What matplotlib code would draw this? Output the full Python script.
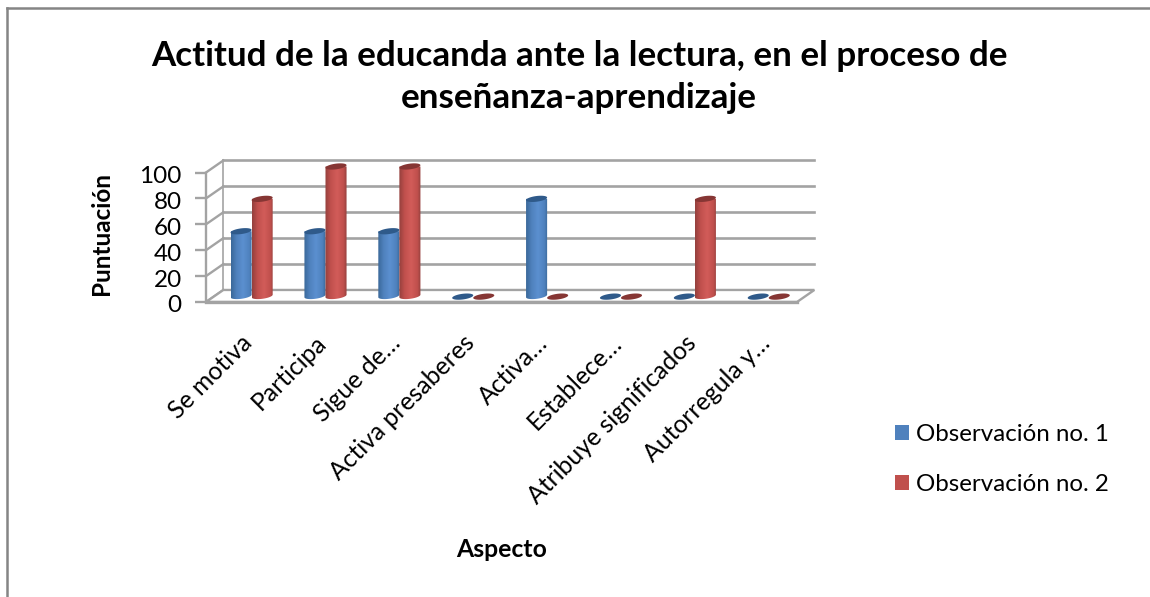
import matplotlib
matplotlib.use("Agg")
import matplotlib.pyplot as plt
import numpy as np
from matplotlib.lines import Line2D
from matplotlib.patches import Patch, Polygon
from matplotlib.transforms import ScaledTranslation

# Chart data
categories = [
    "Se motiva",
    "Participa",
    "Sigue de…",
    "Activa presaberes",
    "Activa…",
    "Establece…",
    "Atribuye significados",
    "Autorregula y…",
]
obs_1 = [50, 50, 50, 0, 75, 0, 0, 0]
obs_2 = [75, 100, 100, 0, 0, 0, 75, 0]
y_ticks = [0, 20, 40, 60, 80, 100]
series_names = ["Observación no. 1", "Observación no. 2"]

WIDTH, HEIGHT = 1150, 597
GRID_COLOR = "#a3a3a3"
BLUE = ("#3a6899", "#5b90d0", "#2f5a8a", "#4f81bd")
RED = ("#93403d", "#d25c59", "#863634", "#c0504d")

# Depth of the fake 3D box, in data units
DEPTH_X = 0.235
DEPTH_Y = 9.3
BAR_W = 0.285

plt.rcParams["font.family"] = ["Lato", "DejaVu Sans"]

fig = plt.figure(figsize=(WIDTH / 100, HEIGHT / 100), dpi=100)
ax = fig.add_axes(
    [206 / WIDTH, 1 - 302 / HEIGHT, (797 - 206) / WIDTH, (302 - 172.5) / HEIGHT]
)
ax.set_xlim(0, len(categories))
ax.set_ylim(0, 100)
for spine in ax.spines.values():
    spine.set_visible(False)


def ellipse_points(cx, cy, tilt=1.0):
    # Slightly tilted ellipse, looks like the perspective in the original
    t = np.linspace(0, 2 * np.pi, 60)
    xs = cx + BAR_W / 2 * np.cos(t)
    ys = cy + 2.2 * np.sin(t) + tilt * np.cos(t)
    return np.column_stack([xs, ys])


def draw_cylinder(cx, value, colors):
    edge, light, top, mid = colors
    base = DEPTH_Y / 2
    if value == 0:
        ax.add_patch(
            Polygon(ellipse_points(cx, base - 0.5), color=top, lw=0, zorder=4, clip_on=False)
        )
        return
    top_y = base + value
    # Body outline, rectangle plus the lower half of the base ellipse
    t = np.linspace(np.pi, 2 * np.pi, 30)
    body = np.column_stack(
        [cx + BAR_W / 2 * np.cos(t), base + 2.2 * np.sin(t) + np.cos(t)]
    )
    body = np.vstack([[cx - BAR_W / 2, top_y], body, [cx + BAR_W / 2, top_y]])
    patch = Polygon(body, closed=True, fc="none", ec="none", zorder=3, clip_on=False)
    ax.add_patch(patch)
    # Horizontal shading across the cylinder
    shade = [0.0, 0.25, 0.55, 0.85, 1.0]
    cmap = matplotlib.colors.LinearSegmentedColormap.from_list(
        "cyl", list(zip(shade, [edge, mid, light, mid, edge]))
    )
    img = ax.imshow(
        np.linspace(0, 1, 64).reshape(1, -1),
        cmap=cmap,
        extent=[cx - BAR_W / 2, cx + BAR_W / 2, base - 3, top_y],
        aspect="auto",
        zorder=3,
        interpolation="bilinear",
    )
    # The image would stop at the axes box otherwise, and the tall bars go past it
    img.set_clip_box(fig.bbox)
    img.set_clip_path(patch)
    ax.add_patch(
        Polygon(ellipse_points(cx, top_y), color=top, lw=0, zorder=4, clip_on=False)
    )


# Back wall and side wall grid
n = len(categories)
for val in y_ticks[1:]:
    ax.plot(
        [DEPTH_X, n + DEPTH_X], [val + DEPTH_Y, val + DEPTH_Y],
        color=GRID_COLOR, lw=1.9, zorder=1, clip_on=False,
    )
for val in y_ticks:
    ax.plot(
        [0, DEPTH_X], [val, val + DEPTH_Y],
        color=GRID_COLOR, lw=1.7, zorder=1, clip_on=False,
    )
ax.plot(
    [DEPTH_X, DEPTH_X], [DEPTH_Y, 100 + DEPTH_Y],
    color=GRID_COLOR, lw=1.2, zorder=1, clip_on=False,
)
ax.plot([0, 0], [0, 100], color=GRID_COLOR, lw=1.7, zorder=1, clip_on=False)

# Floor
ax.add_patch(
    Polygon(
        [[0, 0], [n, 0], [n + DEPTH_X, DEPTH_Y], [DEPTH_X, DEPTH_Y]],
        closed=True, fc="white", ec=GRID_COLOR, lw=1.7, zorder=2, clip_on=False,
    )
)
ax.plot([0, n], [0, 0], color=GRID_COLOR, lw=2.4, zorder=2, clip_on=False)

# Bars
for i in range(n):
    center = i + 0.5 + DEPTH_X / 2
    draw_cylinder(center - BAR_W / 2, obs_1[i], BLUE)
    draw_cylinder(center + BAR_W / 2, obs_2[i], RED)

# imshow changes the limits
ax.set_xlim(0, n)
ax.set_ylim(0, 100)

ax.set_yticks(y_ticks)
ax.tick_params(axis="y", labelsize=17.5, length=8, width=1.7, color=GRID_COLOR, pad=9.5)
# Numbers sit a little lower than their ticks in the original
for label in ax.get_yticklabels():
    label.set_transform(label.get_transform() + ScaledTranslation(0, -2 / 100, fig.dpi_scale_trans))
ax.set_xticks(np.arange(n) + 0.47)
ax.set_xticklabels(categories, rotation=45, ha="right", rotation_mode="anchor", fontsize=17.8)
ax.tick_params(axis="x", length=0, pad=21)

ax.set_ylabel("Puntuación", fontsize=17.5, fontweight="bold")
ax.yaxis.set_label_coords((113 - 206) / (797 - 206), (302 - 233.5) / (302 - 172.5))
ax.set_xlabel("Aspecto", fontsize=17.8, fontweight="bold")
ax.xaxis.set_label_coords((502 - 206) / (797 - 206), (302 - 550) / (302 - 172.5))
ax.xaxis.label.set_verticalalignment("center")

fig.suptitle(
    "Actitud de la educanda ante la lectura, en el proceso de\nenseñanza-aprendizaje",
    x=579 / WIDTH, y=1 - 77 / HEIGHT, va="center", ha="center",
    fontsize=25.2, fontweight="bold", linespacing=1.35,
)

handles = [
    Patch(facecolor=BLUE[3], edgecolor="none"),
    Patch(facecolor=RED[3], edgecolor="none"),
]
fig.legend(
    handles, series_names,
    loc="center left", bbox_to_anchor=(873 / WIDTH, 1 - 459.5 / HEIGHT),
    frameon=False, fontsize=17.4, handlelength=0.58, handleheight=0.58,
    handletextpad=0.3, labelspacing=1.2,
)

# Outer chart border, only left and top show up
fig.add_artist(Line2D([7 / WIDTH, 7 / WIDTH], [0, 1 - 8 / HEIGHT], color="#858585", lw=1.8))
fig.add_artist(Line2D([7 / WIDTH, 1], [1 - 8 / HEIGHT, 1 - 8 / HEIGHT], color="#858585", lw=1.8))

fig.savefig("out.png", dpi=100)
